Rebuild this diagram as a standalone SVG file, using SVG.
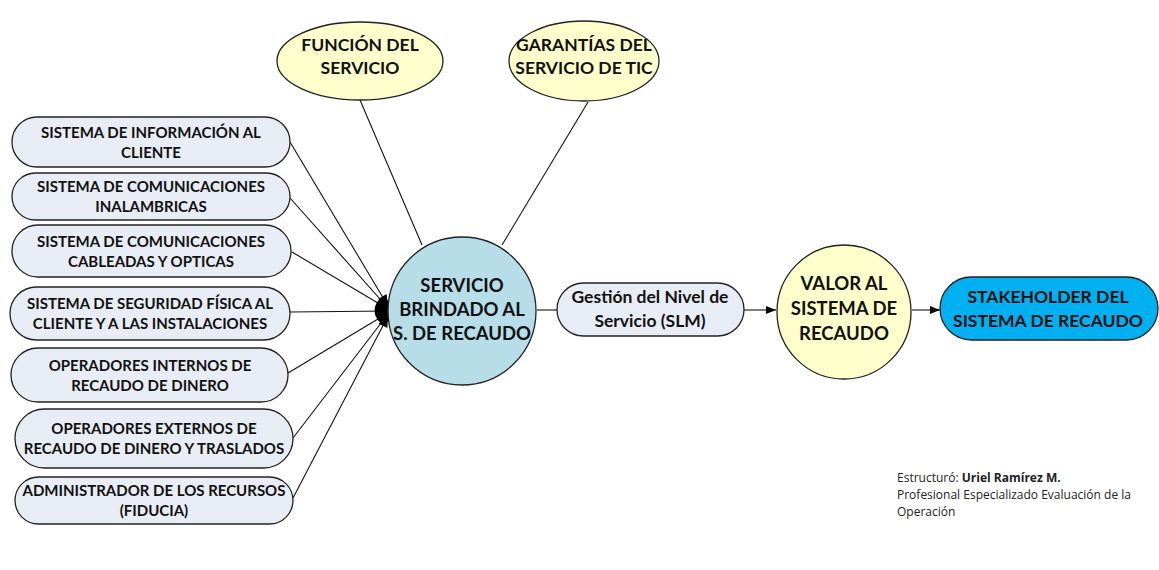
<svg xmlns="http://www.w3.org/2000/svg" width="1159" height="570" viewBox="0 0 1159 570">
<style>
.pill{fill:#e8edf5;stroke:#222;stroke-width:1.3}
.yel{fill:#ffffcc;stroke:#222;stroke-width:1.3}
.t{font-family:Lato,"Open Sans","Liberation Sans",sans-serif;font-weight:bold;fill:#111;text-anchor:middle}
.s15{font-size:15px}
.s18{font-size:18.5px}
.s17{font-size:17.5px}
.conn line{stroke:#111;stroke-width:1.1}
.cr{font-family:"Open Sans","Liberation Sans",sans-serif;font-size:12px;fill:#222}
</style>
<defs>
<marker id="ah" viewBox="0 0 10 10" refX="10" refY="5" markerWidth="11" markerHeight="10" markerUnits="userSpaceOnUse" orient="auto">
<path d="M0,1 L10,5 L0,9 Z" fill="#000"/>
</marker>
<marker id="ah2" viewBox="0 0 10 10" refX="10" refY="5" markerWidth="12" markerHeight="11" markerUnits="userSpaceOnUse" orient="auto">
<path d="M0,0.5 L10,5 L0,9.5 Z" fill="#000"/>
</marker>
</defs>
<rect width="1159" height="570" fill="#fff"/>

<g id="connectors" class="conn">
<line x1="290" y1="142" x2="388" y2="306" marker-end="url(#ah2)"/>
<line x1="290" y1="198" x2="388" y2="308" marker-end="url(#ah2)"/>
<line x1="292" y1="252" x2="388" y2="309" marker-end="url(#ah2)"/>
<line x1="290" y1="312" x2="388" y2="311" marker-end="url(#ah2)"/>
<line x1="288" y1="373" x2="388" y2="313" marker-end="url(#ah2)"/>
<line x1="293" y1="438" x2="388" y2="314" marker-end="url(#ah2)"/>
<line x1="293" y1="498" x2="388" y2="316" marker-end="url(#ah2)"/>
<path d="M385,296 C371,301 371,321 386,325 L389,318 L389,303 Z" fill="#000"/>
<line x1="360" y1="100" x2="422" y2="245"/>
<line x1="588" y1="102" x2="502" y2="245"/>
<line x1="537" y1="310" x2="557" y2="310"/>
<line x1="744" y1="310" x2="776" y2="310" marker-end="url(#ah)"/>
<line x1="912" y1="310" x2="940" y2="310" marker-end="url(#ah)"/>
</g>

<g id="n-info"><rect class="pill" x="12" y="117" width="278" height="50" rx="25"/>
<text class="t s15" x="151" y="138">SISTEMA DE INFORMACIÓN AL</text><text class="t s15" x="151" y="158">CLIENTE</text></g>
<g id="n-inal"><rect class="pill" x="12" y="173" width="278" height="47" rx="23.5"/>
<text class="t s15" x="151" y="192">SISTEMA DE COMUNICACIONES</text><text class="t s15" x="151" y="212">INALAMBRICAS</text></g>
<g id="n-cab"><rect class="pill" x="12" y="225" width="279" height="52" rx="26"/>
<text class="t s15" x="151" y="247">SISTEMA DE COMUNICACIONES</text><text class="t s15" x="151" y="267">CABLEADAS Y OPTICAS</text></g>
<g id="n-seg"><rect class="pill" x="10" y="287" width="280" height="53" rx="26.5"/>
<text class="t s15" x="150" y="309">SISTEMA DE SEGURIDAD FÍSICA AL</text><text class="t s15" x="150" y="329">CLIENTE Y A LAS INSTALACIONES</text></g>
<g id="n-opint"><rect class="pill" x="11" y="348" width="277" height="54" rx="27"/>
<text class="t s15" x="150" y="371">OPERADORES INTERNOS DE</text><text class="t s15" x="150" y="391">RECAUDO DE DINERO</text></g>
<g id="n-opext"><rect class="pill" x="15" y="409" width="278" height="59" rx="29.5"/>
<text class="t s15" x="154" y="434">OPERADORES EXTERNOS DE</text><text class="t s15" x="154" y="454">RECAUDO DE DINERO Y TRASLADOS</text></g>
<g id="n-adm"><rect class="pill" x="15" y="477" width="278" height="47" rx="23.5"/>
<text class="t s15" x="154" y="496">ADMINISTRADOR DE LOS RECURSOS</text><text class="t s15" x="154" y="516">(FIDUCIA)</text></g>

<g id="n-funcion"><ellipse class="yel" cx="360" cy="61" rx="83" ry="39"/>
<text class="t s17" x="360" y="51">FUNCIÓN DEL</text><text class="t s17" x="360" y="74">SERVICIO</text></g>
<g id="n-garantias"><ellipse class="yel" cx="584" cy="61" rx="75" ry="40"/>
<text class="t s17" x="584" y="51">GARANTÍAS DEL</text><text class="t s17" x="584" y="74">SERVICIO DE TIC</text></g>

<g id="n-servicio"><circle cx="462" cy="311" r="74" fill="#b7dde8" stroke="#222" stroke-width="1.3"/>
<text class="t s18" x="462" y="292">SERVICIO</text><text class="t s18" x="462" y="316">BRINDADO AL</text><text class="t s18" x="462" y="340">S. DE RECAUDO</text></g>

<g id="n-slm"><rect class="pill" x="557" y="283" width="187" height="53" rx="26.5"/>
<text class="t s17" x="650" y="303">Gestión del Nivel de</text><text class="t s17" x="650" y="327">Servicio (SLM)</text></g>

<g id="n-valor"><circle cx="844" cy="312" r="67" class="yel"/>
<text class="t s18" x="844" y="290">VALOR AL</text><text class="t s18" x="844" y="315">SISTEMA DE</text><text class="t s18" x="844" y="340">RECAUDO</text></g>

<g id="n-stake"><rect x="940" y="277" width="218" height="63" rx="31.5" fill="#00b0f0" stroke="#222" stroke-width="1.3"/>
<text class="t s17" x="1048" y="303">STAKEHOLDER DEL</text><text class="t s17" x="1048" y="327">SISTEMA DE RECAUDO</text></g>

<g id="credits">
<text class="cr" x="897" y="482">Estructuró: <tspan font-weight="bold">Uriel Ramírez M.</tspan></text>
<text class="cr" x="897" y="499">Profesional Especializado Evaluación de la</text>
<text class="cr" x="897" y="516">Operación</text>
</g>
</svg>
